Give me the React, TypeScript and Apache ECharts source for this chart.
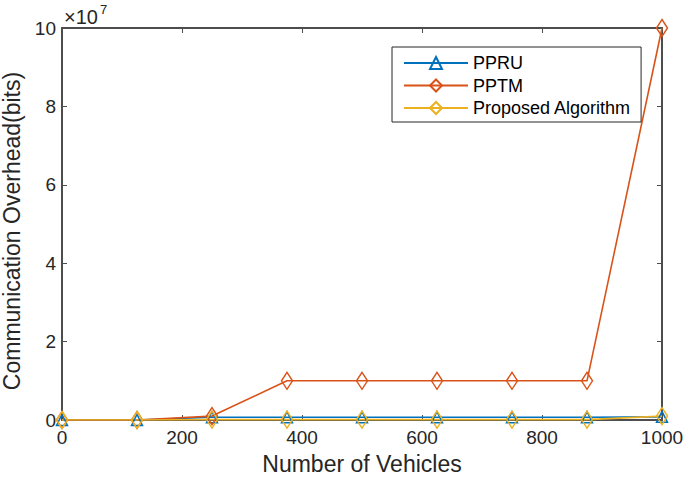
import React, { useEffect, useRef } from "react";
import * as echarts from "echarts";

const vehicles = [0, 125, 250, 375, 500, 625, 750, 875, 1000];
const ppru = [0, 0, 7e5, 7e5, 7e5, 7e5, 7e5, 7e5, 8e5];
const pptm = [0, 0, 1e6, 1e7, 1e7, 1e7, 1e7, 1e7, 1e8];
const proposed = [0, 0, 1e5, 1e5, 1e5, 1e5, 1e5, 1e5, 1e6];
const xTicks = [0, 200, 400, 600, 800, 1000];
const yTicks = [0, 2e7, 4e7, 6e7, 8e7, 1e8];

const FONT = "'Liberation Sans', Arial, Helvetica, sans-serif";
const TXT = "#262626";
const AX = "#4d4d4d";

export default function App() {
  const ref = useRef<HTMLDivElement>(null);
  useEffect(() => {
    if (!ref.current) return;
    const chart = echarts.init(ref.current, null, { renderer: "svg" });
    const pairs = (ys: number[]) => vehicles.map((x, i) => [x, ys[i]]);
    const mk = (name: string, ys: number[], color: string, symbol: string, size: any) => ({
      name,
      type: "line",
      data: pairs(ys),
      symbol,
      symbolSize: size,
      showSymbol: true,
      lineStyle: { color, width: 1.6 },
      itemStyle: { color: "transparent", borderColor: color, borderWidth: 1.5 },
      emphasis: { disabled: true },
    });
    const xMin = xTicks[0];
    const xMax = xTicks[xTicks.length - 1];
    const yMin = yTicks[0];
    const yMax = yTicks[yTicks.length - 1];
    chart.setOption({
      animation: false,
      textStyle: { fontFamily: FONT },
      grid: { left: 62, right: 23, top: 28, bottom: 60, show: false, containLabel: false, outerBoundsMode: "none" },
      legend: {
        orient: "vertical",
        left: 392,
        top: 47,
        width: 248,
        padding: [7, 10, 5, 11],
        itemGap: 4.5,
        itemWidth: 64,
        itemHeight: 15,
        borderColor: "#262626",
        borderWidth: 1,
        backgroundColor: "#fff",
        textStyle: { fontSize: 18, color: "#000", fontFamily: FONT, lineHeight: 18 },
        data: ["PPRU", "PPTM", "Proposed Algorithm"],
      },
      xAxis: [
        {
          type: "value",
          min: xMin,
          max: xMax,
          interval: 200,
          name: "Number of Vehicles",
          nameLocation: "middle",
          nameGap: 32,
          nameTextStyle: { fontSize: 23, color: TXT, fontFamily: FONT },
          axisLine: { show: true, onZero: false, lineStyle: { color: AX, width: 2 } },
          axisTick: { show: true, inside: true, length: 5, lineStyle: { color: AX } },
          axisLabel: { fontSize: 19, color: TXT, margin: 8, fontFamily: FONT, formatter: (v: number) => String(v) },
          splitLine: { show: false },
        },
        {
          type: "value",
          position: "top",
          min: xMin,
          max: xMax,
          interval: 200,
          axisLine: { show: true, onZero: false, lineStyle: { color: AX, width: 2 } },
          axisTick: { show: true, inside: true, length: 5, lineStyle: { color: AX } },
          axisLabel: { show: false },
          splitLine: { show: false },
        },
      ],
      yAxis: [
        {
          type: "value",
          min: yMin,
          max: yMax,
          interval: 2e7,
          name: "Communication Overhead(bits)",
          nameLocation: "middle",
          nameGap: 36,
          nameTextStyle: { fontSize: 23, color: TXT, fontFamily: FONT, padding: [0, 14, 0, 0] },
          axisLine: { show: true, onZero: false, lineStyle: { color: AX, width: 2 } },
          axisTick: { show: true, inside: true, length: 5, lineStyle: { color: AX } },
          axisLabel: {
            fontSize: 19,
            color: TXT,
            margin: 6,
            fontFamily: FONT,
            formatter: (v: number) => String(Math.round(v / 1e7)),
          },
          splitLine: { show: false },
        },
        {
          type: "value",
          position: "right",
          min: yMin,
          max: yMax,
          interval: 2e7,
          axisLine: { show: true, onZero: false, lineStyle: { color: AX, width: 2 } },
          axisTick: { show: true, inside: true, length: 5, lineStyle: { color: AX } },
          axisLabel: { show: false },
          splitLine: { show: false },
        },
      ],
      graphic: [
        {
          type: "text",
          left: 64,
          top: 7,
          style: { text: "×10", fontSize: 20, fill: TXT, fontFamily: FONT },
        },
        {
          type: "text",
          left: 100,
          top: 3,
          style: { text: "7", fontSize: 13, fill: TXT, fontFamily: FONT },
        },
      ],
      series: [
        mk("PPRU", ppru, "#0072BD", "triangle", [11, 11]),
        mk("PPTM", pptm, "#D95319", "diamond", [11, 17]),
        mk("Proposed Algorithm", proposed, "#EDB120", "diamond", [11, 17]),
      ],
    });
    return () => chart.dispose();
  }, []);
  return <div ref={ref} style={{ width: 685, height: 480, position: "absolute", left: 0, top: 0, background: "#fff" }} />;
}
